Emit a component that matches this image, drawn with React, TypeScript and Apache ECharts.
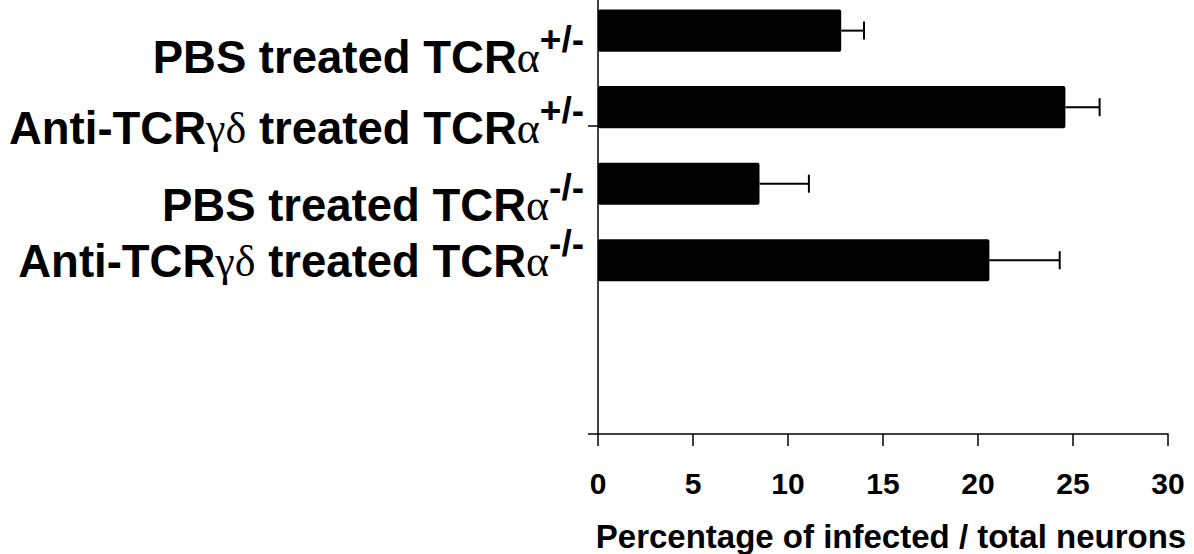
import React, { useEffect, useRef } from "react";
import * as echarts from "echarts";

const categories = [
  "PBS treated TCRα+/-",
  "Anti-TCRγδ treated TCRα+/-",
  "PBS treated TCRα-/-",
  "Anti-TCRγδ treated TCRα-/-",
];
const values = [12.8, 24.6, 8.5, 20.6];
const errors = [1.2, 1.8, 2.6, 3.7];
const xTicks = [0, 5, 10, 15, 20, 25, 30];
const xTitle = "Percentage of infected / total neurons";

const labelY = [57, 128, 205, 261];

function richLabel(s: string): string {
  const m = s.match(/^(.*?)([+-]\/-)$/);
  const body = m ? m[1] : s;
  const sup = m ? m[2] : "";
  const parts = body
    .split(/([αγδ]+)/)
    .filter((p) => p.length > 0)
    .map((p) => (/[αγδ]/.test(p) ? `{g|${p}}` : `{m|${p}}`));
  return parts.join("") + (sup ? `{s|${sup}}` : "");
}

const SANS = "'Liberation Sans', Arial, Helvetica, sans-serif";
const SERIF = "'Liberation Serif', 'Times New Roman', serif";

export default function App() {
  const ref = useRef<HTMLDivElement>(null);
  useEffect(() => {
    if (!ref.current) return;
    const chart = echarts.init(ref.current, undefined, { renderer: "svg" });
    const labelTexts = categories.map((c, i) => ({
      type: "text",
      x: 584,
      y: labelY[i],
      style: {
        text: richLabel(c),
        align: "right",
        verticalAlign: "middle",
        rich: {
          m: { fontSize: 45.5, fontWeight: "bold", fontFamily: SANS, fill: "#000", lineHeight: 72 },
          g: { fontSize: 44, fontWeight: "normal", fontFamily: SERIF, fill: "#000", lineHeight: 72 },
          s: { fontSize: 37, fontWeight: "bold", fontFamily: SANS, fill: "#000", lineHeight: 10, verticalAlign: "top" },
        },
      },
    }));
    chart.setOption({
      animation: false,
      backgroundColor: "#fff",
      grid: { left: 598, right: 26, top: 0, bottom: 120, containLabel: false, outerBoundsMode: "none" },
      xAxis: {
        type: "value",
        min: 0,
        max: 30,
        interval: 5,
        axisLine: { show: true, onZero: false, lineStyle: { color: "#000", width: 1.5 } },
        axisTick: { show: true, length: 12, lineStyle: { color: "#000", width: 1.5 } },
        axisLabel: {
          show: true,
          customValues: xTicks,
          fontSize: 30,
          fontWeight: "bold",
          fontFamily: SANS,
          color: "#000",
          margin: 34,
        },
        splitLine: { show: false },
        name: xTitle,
        nameLocation: "middle",
        nameGap: 86,
        nameTextStyle: { fontSize: 33, fontWeight: "bold", fontFamily: SANS, color: "#000", padding: [0, 0, 0, 16] },
      },
      yAxis: {
        type: "value",
        inverse: true,
        min: -0.4,
        max: 5.27,
        axisLine: { show: true, onZero: false, lineStyle: { color: "#000", width: 1.5 } },
        axisTick: { show: false },
        axisLabel: { show: false },
        splitLine: { show: false },
      },
      graphic: [
        ...labelTexts,
        { type: "line", shape: { x1: 588, y1: 126, x2: 598, y2: 126 }, style: { stroke: "#000", lineWidth: 1.5 } },
        { type: "line", shape: { x1: 588, y1: 434, x2: 598, y2: 434 }, style: { stroke: "#000", lineWidth: 1.5 } },
      ],
      series: [
        {
          type: "custom",
          data: values.map((v, i) => [v, i, errors[i]]),
          encode: { x: 0, y: 1 },
          renderItem: (params: any, api: any) => {
            const v = api.value(0);
            const idx = api.value(1);
            const e = api.value(2);
            const start = api.coord([0, idx]);
            const end = api.coord([v, idx]);
            const errEnd = api.coord([v + e, idx]);
            const h = api.size([0, 0.55])[1];
            return {
              type: "group",
              children: [
                {
                  type: "line",
                  shape: { x1: end[0], y1: end[1], x2: errEnd[0], y2: errEnd[1] },
                  style: { stroke: "#000", lineWidth: 2 },
                },
                {
                  type: "line",
                  shape: { x1: errEnd[0], y1: errEnd[1] - 9, x2: errEnd[0], y2: errEnd[1] + 9 },
                  style: { stroke: "#000", lineWidth: 2 },
                },
                {
                  type: "rect",
                  shape: { x: start[0], y: start[1] - h / 2, width: end[0] - start[0], height: h, r: 2 },
                  style: { fill: "#000" },
                },
              ],
            };
          },
        },
      ],
    });
    return () => chart.dispose();
  }, []);
  return (
    <div
      ref={ref}
      style={{ position: "absolute", left: 0, top: 0, width: 1194, height: 554, background: "#fff" }}
    />
  );
}
